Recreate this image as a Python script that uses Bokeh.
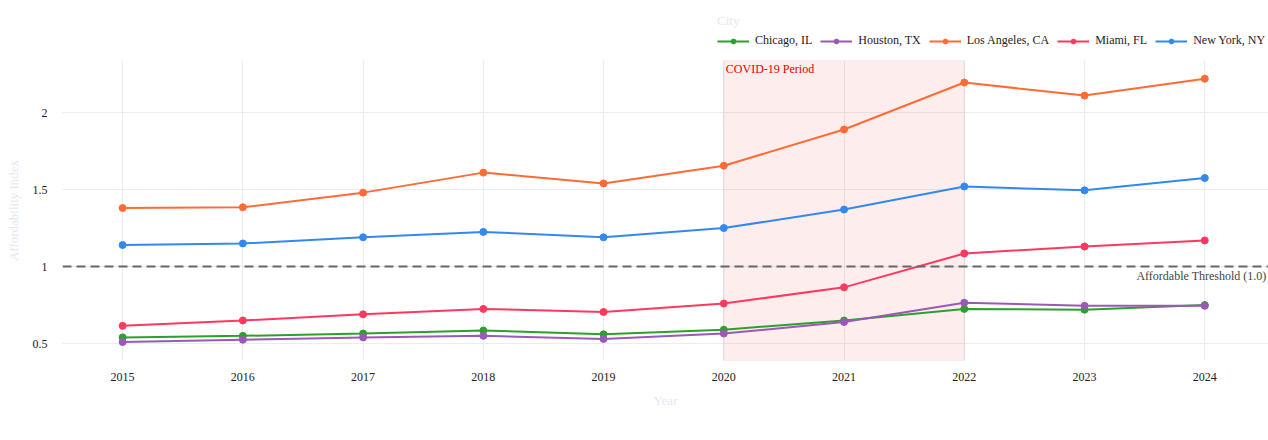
from bokeh.plotting import figure
from bokeh.layouts import column
from bokeh.models import (FixedTicker, Legend, LegendItem, BoxAnnotation, Label, Span,
                          CustomJSTickFormatter, Range1d)
from bokeh.embed import file_html
from bokeh.resources import INLINE

years = [2015, 2016, 2017, 2018, 2019, 2020, 2021, 2022, 2023, 2024]
cities = ["Chicago, IL", "Houston, TX", "Los Angeles, CA", "Miami, FL", "New York, NY"]
chicago = [0.54, 0.55, 0.565, 0.585, 0.56, 0.59, 0.65, 0.725, 0.72, 0.75]
houston = [0.51, 0.525, 0.54, 0.55, 0.53, 0.565, 0.64, 0.765, 0.745, 0.745]
los_angeles = [1.38, 1.385, 1.48, 1.61, 1.54, 1.655, 1.89, 2.195, 2.11, 2.22]
miami = [0.615, 0.65, 0.69, 0.725, 0.705, 0.76, 0.865, 1.085, 1.13, 1.17]
new_york = [1.14, 1.15, 1.19, 1.225, 1.19, 1.25, 1.37, 1.52, 1.495, 1.575]
series = [chicago, houston, los_angeles, miami, new_york]
colors = ["#2ca02c", "#9b59b6", "#ff6b35", "#ff3860", "#3388ee"]
y_ticks = [0.5, 1, 1.5, 2]
covid_start, covid_end = 2020, 2022
threshold = 1.0

FONT = "Liberation Serif"
W = 1268
X0, X1 = 2014.5, 2024.53
Y0, Y1 = 0.39, 2.338

# ---------- legend strip (same series, drawn off-range so only the legend shows) ----------
top = figure(width=W, height=60, output_backend="svg", toolbar_location=None,
             x_range=Range1d(0, 1), y_range=Range1d(0, 1),
             min_border_left=0, min_border_right=0, min_border_top=0, min_border_bottom=0)
top.outline_line_color = None
top.axis.visible = False
top.grid.visible = False
leg_items = []
for name, vals, col in zip(cities, series, colors):
    r1 = top.line(years, vals, line_color=col, line_width=2)
    r2 = top.scatter(years, vals, size=7, fill_color=col, line_color=col)
    leg_items.append(LegendItem(label=name, renderers=[r1, r2]))
legend = Legend(items=leg_items, orientation="horizontal", location=(655, 12),
                title="City", title_text_color="#e3e8f0", title_text_font=FONT,
                title_text_font_size="13px", title_text_font_style="normal", title_standoff=4,
                label_text_font=FONT, label_text_font_size="12px", label_text_color="#222222",
                glyph_width=32, glyph_height=12, label_standoff=6, spacing=8,
                padding=2, margin=0, border_line_color=None, background_fill_alpha=0)
top.add_layout(legend, "center")

# ---------- main chart ----------
p = figure(width=W, height=350, output_backend="svg", toolbar_location=None,
           x_range=Range1d(X0, X1), y_range=Range1d(Y0, Y1),
           min_border_left=62, min_border_right=0, min_border_top=0, min_border_bottom=50)
p.outline_line_color = None
p.background_fill_color = "white"
p.xgrid.grid_line_color = "#ececec"
p.ygrid.grid_line_color = "#ececec"

band = BoxAnnotation(left=covid_start, right=covid_end, fill_color="#e8413c", fill_alpha=0.09,
                     line_color="#cccccc", line_alpha=0.5, line_width=1, level="underlay")
p.add_layout(band)
p.add_layout(Label(x=covid_start, y=Y1, x_offset=2, y_offset=-1, text="COVID-19 Period",
                   text_color="#dd0000", text_font=FONT, text_font_size="12px",
                   text_baseline="top"))

p.add_layout(Span(location=threshold, dimension="width", line_color="#666666",
                  line_dash="9 5", line_width=2))
p.add_layout(Label(x=X1, y=threshold, x_offset=-2, y_offset=-2, text="Affordable Threshold (1.0)",
                   text_color="#444444", text_font=FONT, text_font_size="12px",
                   text_align="right", text_baseline="top"))

for vals, col in zip(series, colors):
    p.line(years, vals, line_color=col, line_width=2)
    p.scatter(years, vals, size=7, fill_color=col, line_color=col)

p.xaxis.ticker = FixedTicker(ticks=years)
p.yaxis.ticker = FixedTicker(ticks=y_ticks)
p.yaxis.formatter = CustomJSTickFormatter(code="return String(tick);")
for ax in (p.xaxis[0], p.yaxis[0]):
    ax.axis_line_color = None
    ax.major_tick_line_color = None
    ax.minor_tick_line_color = None
    ax.major_label_text_font = FONT
    ax.major_label_text_font_size = "12px"
    ax.major_label_text_color = "#222222"
    ax.axis_label_text_font = FONT
    ax.axis_label_text_font_size = "13px"
    ax.axis_label_text_font_style = "normal"
    ax.axis_label_text_color = "#e3e8f0"
p.xaxis.axis_label = "Year"
p.yaxis.axis_label = "Affordability Index"
p.xaxis.major_label_standoff = 6
p.xaxis.axis_label_standoff = 9
p.yaxis.major_label_standoff = 9
p.yaxis.axis_label_standoff = 9

layout = column(top, p, spacing=0)
open("out.html", "w").write(file_html(layout, INLINE))
